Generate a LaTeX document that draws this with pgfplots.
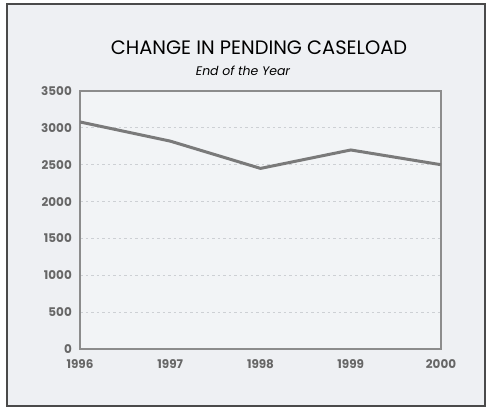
\documentclass[border=0pt]{standalone}
\usepackage{fontspec}
\setmainfont{Poppins}
\usepackage{pgfplots}
\pgfplotsset{compat=1.18}

\definecolor{panel}{HTML}{EEF0F3}
\definecolor{plotbg}{HTML}{F2F4F6}
\definecolor{framecol}{HTML}{4A4A4A}
\definecolor{axiscol}{HTML}{8C8C8C}
\definecolor{linecol}{HTML}{7A7A7A}
\definecolor{labelcol}{HTML}{666666}
\definecolor{gridcol}{HTML}{CDD0D4}

\begin{document}
\begin{tikzpicture}[x=1bp,y=1bp]
  \path[use as bounding box] (0,0) rectangle (489,418);
  \fill[white] (0,0) rectangle (489,418);
  % outer panel
  \filldraw[fill=panel, draw=framecol, line width=2bp] (7,12) rectangle (485,414);
  % titles
  \node[text=black] at (259,370) {\fontsize{19.5}{22}\selectfont CHANGE IN PENDING CASELOAD};
  \node[text=black] at (243,347) {\fontsize{12.5}{15}\selectfont\itshape End of the Year};

  \begin{axis}[
    at={(80bp,69bp)}, anchor=south west,
    scale only axis, width=361bp, height=258bp,
    xmin=1996, xmax=2000, ymin=0, ymax=3500,
    xtick={1996,1997,1998,1999,2000},
    ytick={0,500,...,3500},
    /pgf/number format/assume math mode=true,
    /pgf/number format/1000 sep={},
    ymajorgrids,
    grid style={gridcol, line width=1bp, dash pattern=on 2.5bp off 3bp},
    major tick length=0pt,
    axis line style={axiscol, line width=1.3bp},
    axis background/.style={fill=plotbg},
    tick label style={text=labelcol, font=\fontsize{12}{14}\selectfont\bfseries},
    yticklabel style={anchor=east, inner sep=0pt, xshift=-8bp},
    xticklabel style={anchor=north, inner sep=0pt, yshift=-10bp},
  ]
    \addplot[linecol, line width=3bp, line join=round] coordinates {
      (1996,3080) (1997,2820) (1998,2450) (1999,2700) (2000,2500)
    };
  \end{axis}
\end{tikzpicture}
\end{document}
